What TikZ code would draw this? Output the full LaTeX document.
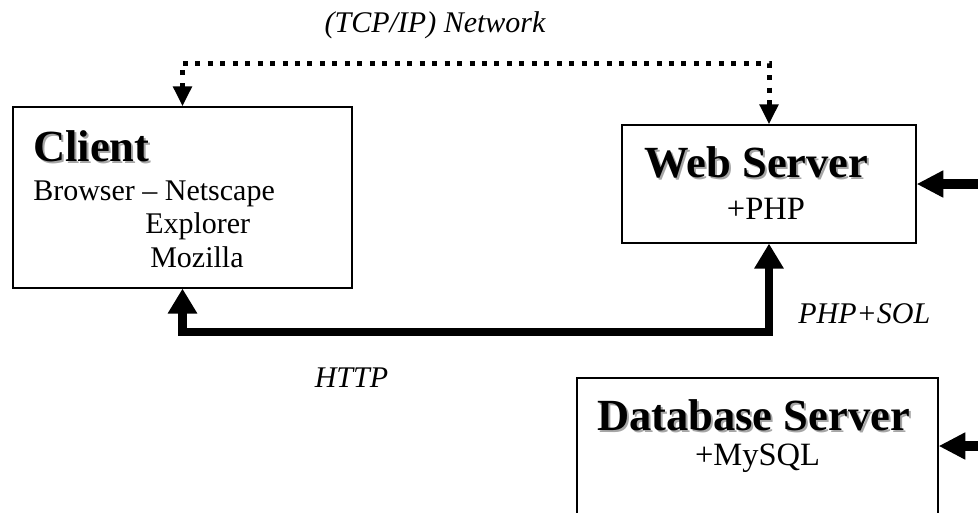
\documentclass[tikz,border=0pt]{standalone}
\usepackage{fontspec}
\setmainfont{Liberation Serif}
\usetikzlibrary{arrows.meta}
\newcommand{\shadowed}[1]{\rlap{\kern1.5pt\raisebox{-1.5pt}{\textcolor{black!35}{#1}}}#1}
\tikzset{
  box/.style={draw,line width=0.9pt,inner sep=0pt},
  boxtitle/.style={font=\fontsize{33.4pt}{36pt}\selectfont\bfseries,inner sep=0pt},
  boxtext/.style={font=\fontsize{22.5pt}{26pt}\selectfont,inner sep=0pt},
  subtext/.style={font=\fontsize{24.4pt}{28pt}\selectfont,inner sep=0pt},
  linktext/.style={font=\fontsize{22.5pt}{26pt}\selectfont\itshape,inner sep=0pt},
  netlink/.style={line width=3.75pt,dash pattern=on 3.75pt off 5.6pt,
    {Triangle[length=15pt,width=13.5pt]}-{Triangle[length=15pt,width=13.5pt]}},
  thicklink/.style={line width=6.4pt,
    {Triangle[length=18.75pt,width=21pt]}-{Triangle[length=18.75pt,width=21pt]}},
  feedlink/.style={line width=6.8pt,-{Triangle[length=20pt,width=19pt]}}
}
\begin{document}
\begin{tikzpicture}[x=0.75pt,y=-0.75pt]
  \useasboundingbox (0,0) rectangle (978,512);
      \coordinate (net) at (475,63);
      \coordinate (http) at (475,332);
      \coordinate (webfeed) at (990,184);
      \coordinate (dbfeed) at (990,446);
   \node[box,minimum width=254.25pt,minimum height=135.75pt] (client) at (182.5,197.5) {};
   \node[box,minimum width=220.5pt,minimum height=88.5pt] (web) at (769,184) {};
   \node[box,minimum width=270.75pt,minimum height=102pt] (db) at (757.5,446) {};
  \node[boxtitle,anchor=base west] (clienttitle) at (33,161) {\shadowed{Client}};
  \node[boxtext,anchor=base west] (browser) at (33,200) {Browser -- Netscape};
  \node[boxtext,anchor=base west] (explorer) at (145,233) {Explorer};
  \node[boxtext,anchor=base west] (mozilla) at (150,267) {Mozilla};
  \node[boxtitle,anchor=base] (webtitle) at (756.5,177) {\shadowed{Web Server}};
  \node[subtext,anchor=base] (php) at (766,219) {+PHP};
  \node[boxtitle,anchor=base] (dbtitle) at (753.5,430) {\shadowed{Database Server}};
  \node[subtext,anchor=base] (mysql) at (757.5,465) {+MySQL};
     \node[linktext,anchor=base] (netlabel) at (435,32) {(TCP/IP) Network};
     \node[linktext,anchor=base] (httplabel) at (351.5,387) {HTTP};
     \node[linktext,anchor=base west] (sqllabel) at (798,323) {PHP+SOL};
  \draw[netlink] (client.north) |- (net) -| (web.north);
  \draw[thicklink] (client.south) |- (http) -| (web.south);
  \draw[feedlink] (webfeed) -- (web.east);
  \draw[feedlink] (dbfeed) -- (db.east);
\end{tikzpicture}
\end{document}
